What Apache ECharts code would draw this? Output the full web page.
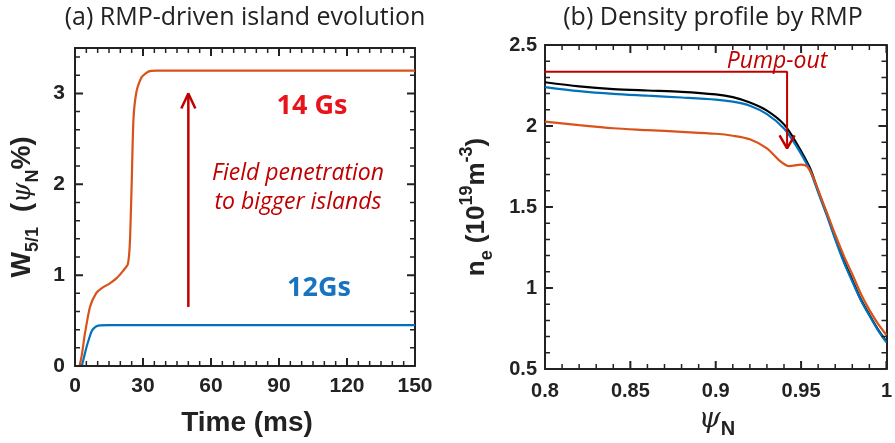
<!DOCTYPE html>
<html><head><meta charset="utf-8">
<script src="https://cdn.jsdelivr.net/npm/echarts@6/dist/echarts.min.js"></script>
<style>html,body{margin:0;padding:0;background:#fff}#c{width:895px;height:443px}</style>
</head><body><div id="c"></div>
<script>
// ---- Panel (a): island width W5/1 vs time ----
const timeRange = [0, 150];
const wRange = [0, 3.5];
const timeMajorTicks = [0,30,60,90,120,150];
const timeMinorTicks = [5,10,15,20,25,35,40,45,50,55,65,70,75,80,85,95,100,105,110,115,125,130,135,140,145];
const wMajorTicks = [0,1,2,3];
const wMinorTicks = [0.2,0.4,0.6,0.8,1.2,1.4,1.6,1.8,2.2,2.4,2.6,2.8,3.2,3.4];
const w14Gs = [[2,0],[3,0.12],[4.4,0.36],[6.6,0.65],[9.3,0.80],[12,0.86],[15.4,0.91],[18.5,0.97],[21.3,1.05],[23.3,1.12],[24.2,1.35],[25.0,2.0],[25.8,2.72],[27.2,3.03],[29.4,3.18],[32.4,3.24],[36,3.25],[60,3.25],[100,3.25],[150,3.25]];
const w12Gs = [[3,0],[4,0.1],[5.1,0.21],[6.2,0.30],[7.3,0.38],[8.5,0.42],[10.3,0.445],[15,0.45],[60,0.45],[100,0.45],[150,0.45]];
const arrowA = [[50,0.65],[50,3.0]];
const arrowAHead = [[46.9,2.835],[50,3.0],[53.1,2.835]];

// ---- Panel (b): density profile ----
const psiRange = [0.8, 1.0];
const neRange = [0.5, 2.5];
const psiMajorTicks = [0.8,0.85,0.9,0.95,1.0];
const psiMinorTicks = [0.81,0.82,0.83,0.84,0.86,0.87,0.88,0.89,0.91,0.92,0.93,0.94,0.96,0.97,0.98,0.99];
const neMajorTicks = [0.5,1.0,1.5,2.0,2.5];
const neMinorTicks = [0.6,0.7,0.8,0.9,1.1,1.2,1.3,1.4,1.6,1.7,1.8,1.9,2.1,2.2,2.3,2.4];
const neRef = [[0.8,2.27],[0.82,2.245],[0.84,2.228],[0.86,2.219],[0.88,2.211],[0.9,2.195],[0.91,2.178],[0.92,2.145],[0.93,2.095],[0.94,2.01],[0.947,1.90],[0.955,1.745],[0.96,1.60],[0.965,1.46],[0.97,1.31],[0.975,1.17],[0.98,1.05],[0.985,0.93],[0.99,0.835],[0.995,0.745],[1.0,0.67]];
const ne12Gs = [[0.8,2.24],[0.82,2.215],[0.84,2.198],[0.86,2.187],[0.88,2.176],[0.9,2.163],[0.91,2.15],[0.92,2.125],[0.93,2.073],[0.94,1.985],[0.947,1.88],[0.955,1.73],[0.96,1.59],[0.965,1.45],[0.97,1.30],[0.975,1.16],[0.98,1.04],[0.985,0.925],[0.99,0.83],[0.995,0.74],[1.0,0.665]];
const ne14Gs = [[0.8,2.027],[0.82,2.005],[0.84,1.986],[0.86,1.975],[0.88,1.964],[0.9,1.952],[0.91,1.94],[0.92,1.918],[0.93,1.862],[0.937,1.79],[0.943,1.752],[0.95,1.762],[0.954,1.745],[0.958,1.66],[0.962,1.55],[0.966,1.44],[0.97,1.33],[0.975,1.20],[0.98,1.085],[0.985,0.965],[0.99,0.865],[0.995,0.78],[1.0,0.71]];
const pumpLine = [[0.7388,2.335],[0.9418,2.335],[0.9418,1.862]];
const pumpHead = [[0.9374,1.942],[0.9418,1.862],[0.9462,1.942]];

const C_ORANGE = '#D95319', C_BLUE = '#0072BD', C_DARKRED = '#C00000';
const INK = '#222';
const labelFont = {fontFamily:'Liberation Sans', fontWeight:'bold', fontSize:21, color:INK};
const GRID_A = {left:75, top:48, width:340, height:318};
const GRID_B = {left:545, top:45, width:343, height:324};

const subBold = {fontFamily:'Liberation Sans', fontWeight:'bold', fontSize:18, verticalAlign:'bottom', lineHeight:16, color:INK};
const supBold = {fontFamily:'Liberation Sans', fontWeight:'bold', fontSize:18, verticalAlign:'top', lineHeight:16, color:INK};
const big = {fontFamily:'Liberation Sans', fontWeight:'bold', fontSize:26, lineHeight:38, color:INK};
const psi = {fontFamily:'DejaVu Serif', fontStyle:'italic', fontWeight:'normal', fontSize:26, lineHeight:38, color:INK};

function ax(o) {
  const base = {
    type:'value', splitLine:{show:false},
    axisLine:{show:true, onZero:false, lineStyle:{color:INK, width:2}},
    axisTick:{show:false},
    axisLabel:{show:false},
    minorTick:{show:false}
  };
  return Object.assign(base, o);
}

const xAxis = [
  ax({gridIndex:0, position:'bottom', min:timeRange[0], max:timeRange[1], interval:30,
      axisLabel:Object.assign({show:true, margin:10}, labelFont)}),
  ax({gridIndex:0, position:'top', min:timeRange[0], max:timeRange[1], interval:30}),
  ax({gridIndex:1, position:'bottom', min:psiRange[0], max:psiRange[1], interval:0.05,
      axisLabel:Object.assign({show:true, margin:12}, labelFont, {fontSize:20})}),
  ax({gridIndex:1, position:'top', min:psiRange[0], max:psiRange[1], interval:0.05})
];
const yAxis = [
  ax({gridIndex:0, position:'left', min:wRange[0], max:wRange[1], interval:1,
      axisLabel:Object.assign({show:true, margin:10, showMaxLabel:false}, labelFont),
      name:'{big|W}{sub|5/1}{big|  (}{psi|ψ}{sub|N}{big|%)}', nameLocation:'middle', nameRotate:90, nameGap:33,
      nameTextStyle:{rich:{big:Object.assign({}, big, {fontSize:27}), sub:subBold, psi:psi}}}),
  ax({gridIndex:0, position:'right', min:wRange[0], max:wRange[1], interval:1}),
  ax({gridIndex:1, position:'left', min:neRange[0], max:neRange[1], interval:0.5,
      axisLabel:Object.assign({show:true, margin:8}, labelFont, {fontSize:20}),
      name:'{big|n}{sub|e}{big| (10}{sup|19}{big|m}{sup|-3}{big|)}', nameLocation:'middle', nameRotate:90, nameGap:49,
      nameTextStyle:{rich:{big:big, sub:subBold, sup:supBold}}}),
  ax({gridIndex:1, position:'right', min:neRange[0], max:neRange[1], interval:0.5})
];

function line(data, color, xi, yi, extra) {
  return Object.assign({type:'line', data, xAxisIndex:xi, yAxisIndex:yi, symbol:'none', silent:true,
    smooth:0.3, lineStyle:{color, width:2.2}, animation:false}, extra||{});
}
const arrowStyle = {smooth:false, clip:false, z:5};

// Inward tick marks on all four sides, drawn as broken polylines in data space
function tickPath(xTicks, yTicks, xr, yr, lenPx, grid) {
  const dx = (xr[1] - xr[0]) * lenPx / grid.width;
  const dy = (yr[1] - yr[0]) * lenPx / grid.height;
  const gap = ['-', '-'];
  const d = [];
  xTicks.forEach(v => { d.push([v, yr[0]], [v, yr[0] + dy], gap, [v, yr[1]], [v, yr[1] - dy], gap); });
  yTicks.forEach(v => { d.push([xr[0], v], [xr[0] + dx, v], gap, [xr[1], v], [xr[1] - dx, v], gap); });
  return d;
}
function tickSeries(data, xi, yi, width) {
  return {type:'line', data, xAxisIndex:xi, yAxisIndex:yi, symbol:'none', silent:true, smooth:false,
    connectNulls:false, z:6, animation:false, lineStyle:{color:INK, width}};
}

const series = [
  line(w12Gs, C_BLUE, 0, 0),
  line(w14Gs, C_ORANGE, 0, 0, {smooth:0.2}),
  line(arrowA, C_DARKRED, 0, 0, Object.assign({}, arrowStyle, {lineStyle:{color:C_DARKRED, width:2.5}})),
  line(arrowAHead, C_DARKRED, 0, 0, Object.assign({}, arrowStyle, {lineStyle:{color:C_DARKRED, width:2.5}})),
  line(neRef, '#000', 2, 2),
  line(ne12Gs, C_BLUE, 2, 2),
  line(ne14Gs, C_ORANGE, 2, 2),
  line(pumpLine, C_DARKRED, 2, 2, Object.assign({}, arrowStyle, {lineStyle:{color:C_DARKRED, width:2}})),
  line(pumpHead, C_DARKRED, 2, 2, Object.assign({}, arrowStyle, {lineStyle:{color:C_DARKRED, width:2.5}})),
  tickSeries(tickPath(timeMajorTicks, wMajorTicks, timeRange, wRange, 8, GRID_A), 0, 0, 2),
  tickSeries(tickPath(timeMinorTicks, wMinorTicks, timeRange, wRange, 5, GRID_A), 0, 0, 1.5),
  tickSeries(tickPath(psiMajorTicks, neMajorTicks, psiRange, neRange, 8, GRID_B), 2, 2, 2),
  tickSeries(tickPath(psiMinorTicks, neMinorTicks, psiRange, neRange, 5, GRID_B), 2, 2, 1.5)
];

// Text placed with title components (centred on given point)
function txt(text, cx, cy, style) {
  return {text, left:cx, top:cy, padding:0, textAlign:'center', textVerticalAlign:'middle',
    textStyle:Object.assign({fontWeight:'normal', color:INK}, style)};
}
const titles = [
  txt('(a) RMP-driven island evolution', 245, 18, {fontFamily:'Open Sans', fontSize:25}),
  txt('(b) Density profile by RMP', 713, 18, {fontFamily:'Open Sans', fontSize:25}),
  txt('14 Gs', 312, 106, {fontFamily:'Open Sans', fontWeight:'bold', fontSize:27, color:'#E8141B'}),
  txt('12Gs', 319, 288, {fontFamily:'Open Sans', fontWeight:'bold', fontSize:27, color:'#1874C0'}),
  txt('Field penetration', 298, 173, {fontFamily:'Open Sans', fontStyle:'italic', fontSize:23, color:C_DARKRED}),
  txt('to bigger islands', 298, 202, {fontFamily:'Open Sans', fontStyle:'italic', fontSize:23, color:C_DARKRED}),
  txt('Pump-out', 777, 61, {fontFamily:'Open Sans', fontStyle:'italic', fontSize:23, color:C_DARKRED}),
  txt('Time (ms)', 247, 423, {fontFamily:'Liberation Sans', fontWeight:'bold', fontSize:28}),
  txt('{psi|ψ}{sub|N}', 717, 420, {rich:{psi:Object.assign({}, psi, {fontSize:28}), sub:Object.assign({}, subBold, {fontSize:20})}})
];

const chart = echarts.init(document.getElementById('c'));
chart.setOption({
  animation:false,
  backgroundColor:'#fff',
  title:titles,
  grid:[GRID_A, GRID_B],
  xAxis, yAxis, series
});
</script></body></html>
